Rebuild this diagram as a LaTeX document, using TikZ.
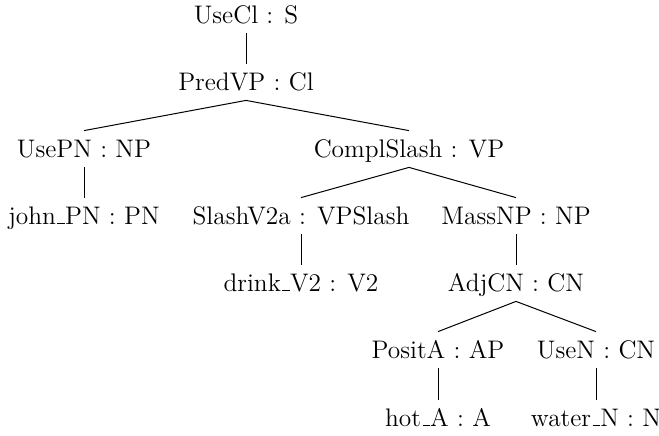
\documentclass[tikz,border=0pt]{standalone}
\makeatletter
\newcommand\ulow{\leavevmode\kern.06em\vbox{\hrule\@width.3em}}
\makeatother
\begin{document}
\begin{tikzpicture}[x=0.5pt,y=-0.5pt,
  lbl/.style={anchor=base,inner xsep=0pt,inner ysep=0pt,text height=13pt,text depth=5pt,font=\fontsize{12.7}{15}\selectfont},
  edge/.style={draw=black,line width=0.5pt}]
\useasboundingbox (0,0) rectangle (659,435);
\node[lbl] (usecl) at (246,23) {UseCl : S};
\node[lbl] (predvp) at (246,90) {PredVP : Cl};
\node[lbl] (usepn) at (84,157) {UsePN : NP};
\node[lbl] (complslash) at (409,157) {ComplSlash : VP};
\node[lbl] (john) at (84,224) {john\ulow PN : PN};
\node[lbl] (slashv2a) at (301,224) {SlashV2a : VPSlash};
\node[lbl] (massnp) at (516,224) {MassNP : NP};
\node[lbl] (drink) at (301,291) {drink\ulow V2 : V2};
\node[lbl] (adjcn) at (516,291) {AdjCN : CN};
\node[lbl] (posita) at (438,358) {PositA : AP};
\node[lbl] (usen) at (596,358) {UseN : CN};
\node[lbl] (hot) at (438,426) {hot\ulow A : A};
\node[lbl] (water) at (596,426) {water\ulow N : N};
\draw[edge] (usecl.south) -- (predvp.north);
\draw[edge] (predvp.south) -- (usepn.north);
\draw[edge] (predvp.south) -- (complslash.north);
\draw[edge] (usepn.south) -- (john.north);
\draw[edge] (complslash.south) -- (slashv2a.north);
\draw[edge] (complslash.south) -- (massnp.north);
\draw[edge] (slashv2a.south) -- (drink.north);
\draw[edge] (massnp.south) -- (adjcn.north);
\draw[edge] (adjcn.south) -- (posita.north);
\draw[edge] (adjcn.south) -- (usen.north);
\draw[edge] (posita.south) -- (hot.north);
\draw[edge] (usen.south) -- (water.north);
\end{tikzpicture}
\end{document}
